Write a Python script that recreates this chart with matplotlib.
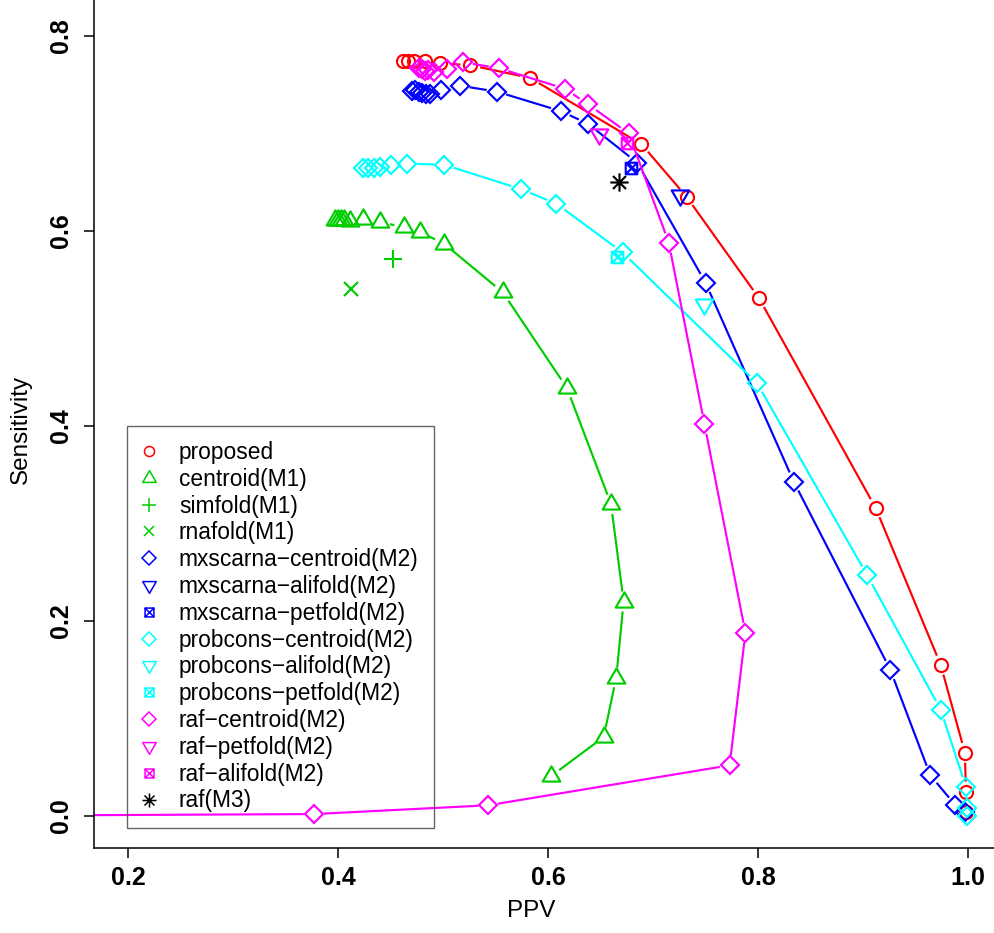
import numpy as np
import matplotlib
matplotlib.use('Agg')
import matplotlib.pyplot as plt
from matplotlib.path import Path
from matplotlib.lines import Line2D

plt.rcParams['font.family'] = ['Liberation Sans', 'DejaVu Sans']

# values (PPV, Sensitivity)
proposed_x = [0.462, 0.467, 0.472, 0.483, 0.497, 0.526, 0.583, 0.689, 0.732, 0.801, 0.912, 0.974, 0.997, 0.998, 0.998]
proposed_y = [0.774, 0.774, 0.774, 0.774, 0.772, 0.770, 0.757, 0.689, 0.635, 0.531, 0.316, 0.155, 0.065, 0.025, 0.004]

centroid_m1_x = [0.397, 0.400, 0.403, 0.406, 0.411, 0.424, 0.440, 0.463, 0.478, 0.501, 0.557, 0.618, 0.660, 0.672, 0.665, 0.653, 0.603]
centroid_m1_y = [0.611, 0.611, 0.611, 0.611, 0.610, 0.612, 0.609, 0.604, 0.599, 0.587, 0.537, 0.439, 0.320, 0.220, 0.142, 0.081, 0.041]

simfold_x, simfold_y = [0.452], [0.571]
rnafold_x, rnafold_y = [0.412], [0.540]

mx_centroid_x = [0.470, 0.473, 0.477, 0.480, 0.484, 0.488, 0.498, 0.516, 0.551, 0.612, 0.638, 0.685, 0.750, 0.834, 0.926, 0.964, 0.988, 0.997]
mx_centroid_y = [0.744, 0.745, 0.743, 0.742, 0.741, 0.741, 0.745, 0.749, 0.743, 0.723, 0.710, 0.670, 0.547, 0.343, 0.150, 0.042, 0.011, 0.004]
mx_alifold_x, mx_alifold_y = [0.726], [0.637]
mx_petfold_x, mx_petfold_y = [0.679], [0.665]

pc_centroid_x = [0.424, 0.429, 0.434, 0.440, 0.450, 0.466, 0.501, 0.574, 0.608, 0.671, 0.799, 0.904, 0.974, 0.998, 0.999, 0.999]
pc_centroid_y = [0.665, 0.665, 0.665, 0.666, 0.668, 0.669, 0.668, 0.643, 0.628, 0.578, 0.444, 0.247, 0.109, 0.030, 0.008, 0.000]
pc_alifold_x, pc_alifold_y = [0.749], [0.525]
pc_petfold_x, pc_petfold_y = [0.666], [0.573]

raf_centroid_x = [0.477, 0.480, 0.483, 0.486, 0.491, 0.504, 0.519, 0.553, 0.616, 0.638, 0.677, 0.715, 0.749, 0.788, 0.773, 0.543, 0.377, 0.0]
raf_centroid_y = [0.767, 0.766, 0.764, 0.765, 0.763, 0.766, 0.773, 0.767, 0.746, 0.730, 0.700, 0.588, 0.402, 0.188, 0.052, 0.011, 0.002, 0.0]
raf_petfold_x, raf_petfold_y = [0.649], [0.699]
raf_alifold_x, raf_alifold_y = [0.675], [0.690]
raf_m3_x, raf_m3_y = [0.668], [0.650]

x_ticks = [0.2, 0.4, 0.6, 0.8, 1.0]
y_ticks = [0.0, 0.2, 0.4, 0.6, 0.8]

# R-like marker shapes
tri_up = Path([(0, 1.5551), (1.3468, -0.7776), (-1.3468, -0.7776), (0, 1.5551)],
              [Path.MOVETO, Path.LINETO, Path.LINETO, Path.CLOSEPOLY])
tri_down = Path([(0, -1.5551), (1.3468, 0.7776), (-1.3468, 0.7776), (0, -1.5551)],
                [Path.MOVETO, Path.LINETO, Path.LINETO, Path.CLOSEPOLY])
box_x = Path([(-1, -1), (1, -1), (1, 1), (-1, 1), (-1, -1), (-1, -1), (1, 1), (-1, 1), (1, -1)],
             [Path.MOVETO, Path.LINETO, Path.LINETO, Path.LINETO, Path.CLOSEPOLY,
              Path.MOVETO, Path.LINETO, Path.MOVETO, Path.LINETO])
s = 0.7071
star = Path([(-1, 0), (1, 0), (0, -1), (0, 1), (-s, -s), (s, s), (-s, s), (s, -s)],
            [Path.MOVETO, Path.LINETO] * 4)

RED, GREEN, BLUE, CYAN, MAG = '#FF0000', '#00CD00', '#0000FF', '#00FFFF', '#FF00FF'

fig = plt.figure(figsize=(9.95, 9.33), dpi=100)
ax = fig.add_axes([94 / 995, 85 / 933, 901 / 995, 848 / 933])
ax.set_xlim(0.1676, 1.0257)
ax.set_ylim(-0.0328, 0.8369)
for sp in ['top', 'right']:
    ax.spines[sp].set_visible(False)
for sp in ['left', 'bottom']:
    ax.spines[sp].set_linewidth(1.1)

LW = 1.55


def gap_line(xs, ys, color, gap=10.0):
    # type="b" style: line segments stop short of each point
    pts = ax.transData.transform(np.column_stack([xs, ys]))
    inv = ax.transData.inverted()
    for p0, p1 in zip(pts[:-1], pts[1:]):
        d = p1 - p0
        L = np.hypot(d[0], d[1])
        if L <= 2 * gap:
            continue
        u = d / L
        seg = inv.transform(np.array([p0 + u * gap, p1 - u * gap]))
        ax.plot(seg[:, 0], seg[:, 1], color=color, lw=LW, solid_capstyle='butt')


def pts(xs, ys, marker, color, ms):
    ax.plot(xs, ys, ls='none', marker=marker, ms=ms, mfc='none', mec=color, mew=LW)


series = [
    ('proposed', proposed_x, proposed_y, 'o', RED, 9.4, True),
    ('centroid(M1)', centroid_m1_x, centroid_m1_y, tri_up, GREEN, 14.6, True),
    ('simfold(M1)', simfold_x, simfold_y, '+', GREEN, 13.2, False),
    ('rnafold(M1)', rnafold_x, rnafold_y, 'x', GREEN, 9.4, False),
    ('mxscarna\u2212centroid(M2)', mx_centroid_x, mx_centroid_y, 'D', BLUE, 9.4, True),
    ('mxscarna\u2212alifold(M2)', mx_alifold_x, mx_alifold_y, tri_down, BLUE, 14.6, False),
    ('mxscarna\u2212petfold(M2)', mx_petfold_x, mx_petfold_y, box_x, BLUE, 8.3, False),
    ('probcons\u2212centroid(M2)', pc_centroid_x, pc_centroid_y, 'D', CYAN, 9.4, True),
    ('probcons\u2212alifold(M2)', pc_alifold_x, pc_alifold_y, tri_down, CYAN, 14.6, False),
    ('probcons\u2212petfold(M2)', pc_petfold_x, pc_petfold_y, box_x, CYAN, 8.3, False),
    ('raf\u2212centroid(M2)', raf_centroid_x, raf_centroid_y, 'D', MAG, 9.4, True),
    ('raf\u2212petfold(M2)', raf_petfold_x, raf_petfold_y, tri_down, MAG, 14.6, False),
    ('raf\u2212alifold(M2)', raf_alifold_x, raf_alifold_y, box_x, MAG, 8.3, False),
    ('raf(M3)', raf_m3_x, raf_m3_y, star, 'black', 13.2, False),
]

handles = []
for label, xs, ys, mk, col, ms, joined in series:
    if joined:
        gap_line(xs, ys, col)
    pts(xs, ys, mk, col, ms)
    handles.append(Line2D([], [], ls='none', marker=mk, ms=ms * 0.77, mfc='none',
                          mec=col, mew=1.1, label=label))

ax.set_xticks(x_ticks)
ax.set_xticklabels(['%.1f' % v for v in x_ticks])
ax.set_yticks(y_ticks)
ax.set_yticklabels(['%.1f' % v for v in y_ticks])
ax.tick_params(axis='both', length=7.2, width=1.1, labelsize=18, direction='out')
ax.tick_params(axis='x', pad=6)
ax.tick_params(axis='y', pad=8, labelrotation=90)
for lab in ax.get_xticklabels() + ax.get_yticklabels():
    lab.set_fontweight('bold')
for lab in ax.get_yticklabels():
    lab.set_va('center')

ax.set_xlabel('PPV', fontsize=17.5)
ax.set_ylabel('Sensitivity', fontsize=17.5)
ax.xaxis.set_label_coords(0.485, -0.061)
ax.yaxis.set_label_coords(-0.069, 0.493)

leg = ax.legend(handles=handles, loc='upper left',
                bbox_to_anchor=(127 / 995, 1 - 426 / 933), bbox_transform=fig.transFigure,
                borderaxespad=0, fontsize=16.4, labelspacing=0.167, borderpad=0.66,
                handlelength=0.6, handletextpad=1.02, fancybox=False,
                frameon=True, markerscale=1.0)
leg.get_frame().set_facecolor('none')
leg.get_frame().set_edgecolor('#404040')
leg.get_frame().set_linewidth(1.0)

fig.savefig('out.png', dpi=100)
